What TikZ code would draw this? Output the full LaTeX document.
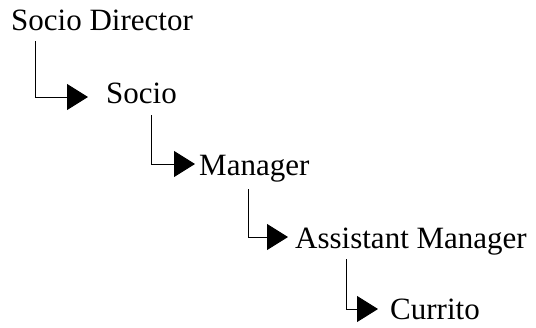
\documentclass[tikz,border=0pt]{standalone}
\usepackage{fontspec}
\setmainfont{Liberation Serif}
\usetikzlibrary{arrows.meta}
\begin{document}
\begin{tikzpicture}[x=1pt,y=-1pt,
  lbl/.style={anchor=base west,inner sep=0pt,font=\fontsize{31}{36}\selectfont},
  conn/.style={line width=1pt,-{Triangle[length=21pt,width=26pt]}}]
\useasboundingbox (0,0) rectangle (536,327);
\node[lbl] (sd) at (11,30) {Socio Director};
\node[lbl] (so) at (106,103) {Socio};
\node[lbl] (ma) at (199,175) {Manager};
\node[lbl] (am) at (295,248) {Assistant Manager};
\node[lbl] (cu) at (390,319) {Currito};
\coordinate (s1) at (35,41);  \coordinate (t1) at (88,97);
\coordinate (s2) at (151,115); \coordinate (t2) at (195,164);
\coordinate (s3) at (248,189); \coordinate (t3) at (288,237);
\coordinate (s4) at (346,259); \coordinate (t4) at (378,309);
\draw[conn] (s1) |- (t1);
\draw[conn] (s2) |- (t2);
\draw[conn] (s3) |- (t3);
\draw[conn] (s4) |- (t4);
\end{tikzpicture}
\end{document}
